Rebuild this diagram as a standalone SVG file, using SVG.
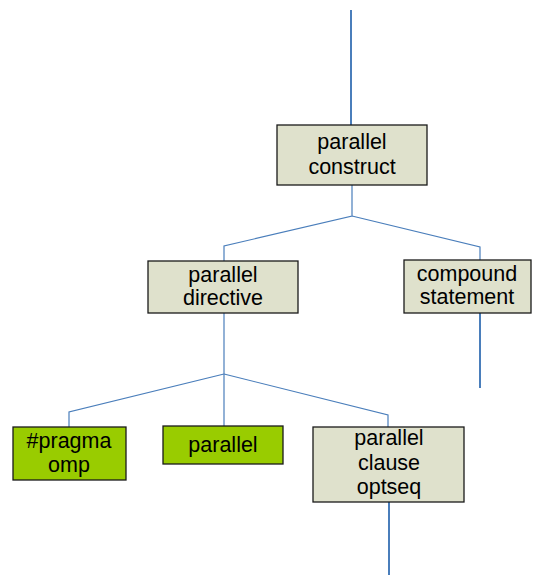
<svg xmlns="http://www.w3.org/2000/svg" width="541" height="575" viewBox="0 0 541 575">
<style>
.box{fill:#dfe1cc;stroke:#1a1a1a;stroke-width:1.3}
.grn{fill:#99cc00;stroke:#1a1a1a;stroke-width:1.3}
.t{font-family:"Liberation Sans",Arial,sans-serif;font-size:21.5px;fill:#000;text-anchor:middle}
.c{fill:none;stroke:#4a7ebb;stroke-width:1.2}
.ct{fill:none;stroke:#4a7ebb;stroke-width:2}
</style>
<rect width="541" height="575" fill="#fff"/>
<g id="connectors">
<path class="ct" d="M351,10 V125"/>
<path class="c" d="M352,185 V216 L224,246 V261"/>
<path class="c" d="M352,216 L480,247 V260"/>
<path class="ct" d="M480,313 V388"/>
<path class="c" d="M224,313 V374"/>
<path class="c" d="M224,374 L69,412 V427"/>
<path class="c" d="M224,374 V426"/>
<path class="c" d="M224,374 L388,415 V427"/>
<path class="ct" d="M389,502 V575"/>
</g>
<g id="parallel-construct">
<rect class="box" x="277" y="125" width="150" height="60"/>
<text class="t" x="352" y="149">parallel</text>
<text class="t" x="352" y="174">construct</text>
</g>
<g id="parallel-directive">
<rect class="box" x="148" y="261" width="150" height="52"/>
<text class="t" x="223" y="282">parallel</text>
<text class="t" x="223" y="305">directive</text>
</g>
<g id="compound-statement">
<rect class="box" x="404" y="260" width="127" height="53"/>
<text class="t" x="467" y="281">compound</text>
<text class="t" x="467" y="304">statement</text>
</g>
<g id="pragma-omp">
<rect class="grn" x="13" y="427" width="113" height="53"/>
<text class="t" x="69" y="448">#pragma</text>
<text class="t" x="69" y="472">omp</text>
</g>
<g id="parallel">
<rect class="grn" x="163" y="426" width="120" height="38"/>
<text class="t" x="223" y="452">parallel</text>
</g>
<g id="parallel-clause-optseq">
<rect class="box" x="313" y="427" width="151" height="75"/>
<text class="t" x="389" y="445">parallel</text>
<text class="t" x="389" y="470">clause</text>
<text class="t" x="389" y="494">optseq</text>
</g>
</svg>
